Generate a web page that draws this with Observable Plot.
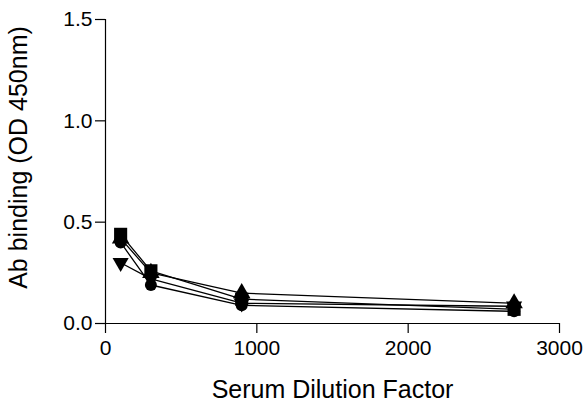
<!DOCTYPE html>
<html>
<head>
<meta charset="utf-8">
<script src="https://cdn.jsdelivr.net/npm/d3@7"></script>
<script src="https://cdn.jsdelivr.net/npm/@observablehq/plot@0.6"></script>
<style>
  html, body { margin: 0; padding: 0; background: #fff; }
</style>
</head>
<body>
<div id="chart"></div>
<script>
// Data
const dilutions = [100, 300, 900, 2700];
const circleSeries = [0.40, 0.19, 0.09, 0.06];
const squareSeries = [0.44, 0.26, 0.12, 0.07];
const triUpSeries = [0.42, 0.25, 0.15, 0.10];
const triDownSeries = [0.30, 0.22, 0.10, 0.085];
const xTicks = [0, 1000, 2000, 3000];
const yTicks = [0, 0.5, 1.0, 1.5];
const xLabel = "Serum Dilution Factor";
const yLabel = "Ab binding (OD 450nm)";

const sqrt3 = Math.sqrt(3);
const triangleDown = {
  draw(context, size) {
    const y = Math.sqrt(size / (sqrt3 * 3));
    context.moveTo(0, y * 2);
    context.lineTo(-sqrt3 * y, -y);
    context.lineTo(sqrt3 * y, -y);
    context.closePath();
  }
};

const seriesDefs = [
  {name: "circle", values: circleSeries, symbol: "circle", r: 6},
  {name: "triDown", values: triDownSeries, symbol: triangleDown, r: 6},
  {name: "triUp", values: triUpSeries, symbol: "triangle", r: 6.5},
  {name: "square", values: squareSeries, symbol: "square", r: 7.4}
];

const rows = seriesDefs.flatMap(s => dilutions.map((d, i) => ({series: s.name, x: d, y: s.values[i]})));

const font = "'Liberation Sans', Arial, Helvetica, sans-serif";

const marks = [
  Plot.ruleX([0], {y1: 0, y2: 1.5, stroke: "#000", strokeWidth: 1.2}),
  Plot.ruleY([0], {x1: 0, x2: 3000, stroke: "#000", strokeWidth: 1.2}),
  Plot.axisX({ticks: xTicks, tickSize: 10, tickPadding: 7, fontSize: 21, label: null, tickFormat: d3.format("d"), strokeWidth: 1.2}),
  Plot.axisY({ticks: yTicks, tickSize: 10, tickPadding: 3, fontSize: 21, label: null, tickFormat: d3.format(".1f"), strokeWidth: 1.2}),
  Plot.line(rows, {x: "x", y: "y", z: "series", stroke: "#000", strokeWidth: 1.3}),
  ...seriesDefs.map(s => Plot.dot(dilutions.map((d, i) => ({x: d, y: s.values[i]})), {x: "x", y: "y", symbol: () => s.symbol, r: s.r, fill: "#000", stroke: "none"})),
  Plot.text([xLabel], {frameAnchor: "bottom", dy: 74, fontSize: 25, fill: "#000"}),
  Plot.text([yLabel], {frameAnchor: "left", textAnchor: "middle", rotate: -90, dx: -87, dy: -14, fontSize: 25, fill: "#000"})
];

const chart = Plot.plot({
  width: 586,
  height: 403,
  marginLeft: 105,
  marginRight: 27,
  marginTop: 19,
  marginBottom: 80,
  style: {fontFamily: font, background: "#fff", color: "#000"},
  x: {domain: [0, 3000]},
  y: {domain: [0, 1.5]},
  symbol: {type: "identity"},
  marks
});
document.getElementById("chart").appendChild(chart);
</script>
</body>
</html>
